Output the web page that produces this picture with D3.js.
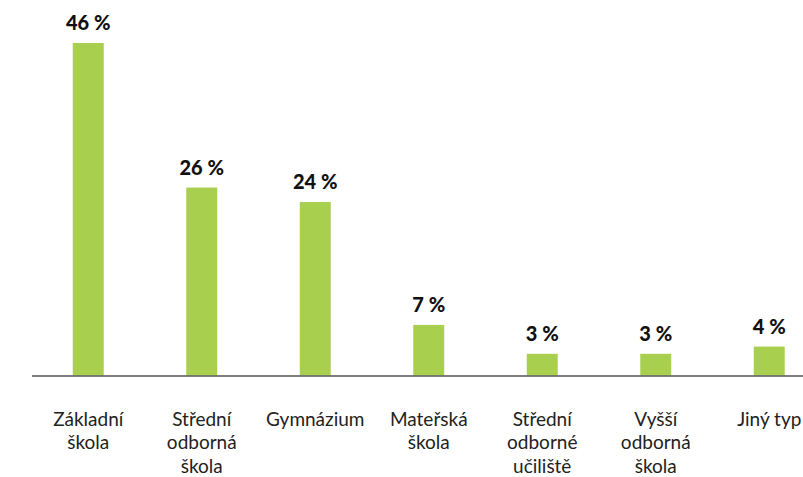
<!DOCTYPE html>
<html>
<head>
<meta charset="utf-8">
<title>Typ školy</title>
<script src="https://d3js.org/d3.v7.min.js"></script>
<style>
  body { margin: 0; background: #fff; }
  .tick text { font-family: Lato, "Open Sans", sans-serif; font-size: 19px; fill: #222; }
  .val { font-family: Lato, "Open Sans", sans-serif; font-size: 20px; font-weight: 900; fill: #111; }
</style>
</head>
<body>
<div id="chart"></div>
<script>
var categories = ["Základní škola", "Střední odborná škola", "Gymnázium", "Mateřská škola",
                  "Střední odborné učiliště", "Vyšší odborná škola", "Jiný typ"];
var values = [46, 26, 24, 7, 3, 3, 4];

var w = 803, h = 477;
var baseY = 375.5;

var svg = d3.select("#chart").append("svg")
    .attr("width", w)
    .attr("height", h);

// band range runs past the right edge like in the original
var x = d3.scaleBand()
    .domain(categories)
    .range([31.5, 826])
    .paddingInner(0.727)
    .paddingOuter(0.3635);

var y = d3.scaleLinear()
    .domain([0, 46])
    .range([baseY, 43]);

svg.selectAll("rect.bar")
    .data(values)
    .enter().append("rect")
    .attr("class", "bar")
    .attr("x", function(d, i) { return x(categories[i]); })
    .attr("width", x.bandwidth())
    .attr("y", function(d) { return y(d); })
    .attr("height", function(d) { return baseY - y(d); })
    .style("fill", "#a9cf4f");

svg.selectAll("text.val")
    .data(values)
    .enter().append("text")
    .attr("class", "val")
    .attr("x", function(d, i) { return x(categories[i]) + x.bandwidth() / 2; })
    .attr("y", function(d) { return y(d) - 13; })
    .attr("text-anchor", "middle")
    .text(function(d) { return d + " %"; });

var axis = svg.append("g")
    .attr("transform", "translate(0," + baseY + ")")
    .call(d3.axisBottom(x).tickSize(0).tickSizeOuter(0));

axis.select(".domain")
    .style("stroke", "#555")
    .style("stroke-width", 1.6);

axis.selectAll(".tick text")
    .attr("dy", null)
    .attr("y", 50)
    .call(wrap, 100);

function wrap(sel, width) {
  sel.each(function() {
    var text = d3.select(this),
        words = text.text().split(" "),
        line = [],
        lineNo = 0,
        yy = +text.attr("y"),
        tspan = text.text(null).append("tspan").attr("x", 0).attr("y", yy);
    words.forEach(function(word) {
      line.push(word);
      tspan.text(line.join(" "));
      if (tspan.node().getComputedTextLength() > width && line.length > 1) {
        line.pop();
        tspan.text(line.join(" "));
        line = [word];
        lineNo++;
        tspan = text.append("tspan").attr("x", 0).attr("y", yy + lineNo * 23.5).text(word);
      }
    });
  });
}
</script>
</body>
</html>
